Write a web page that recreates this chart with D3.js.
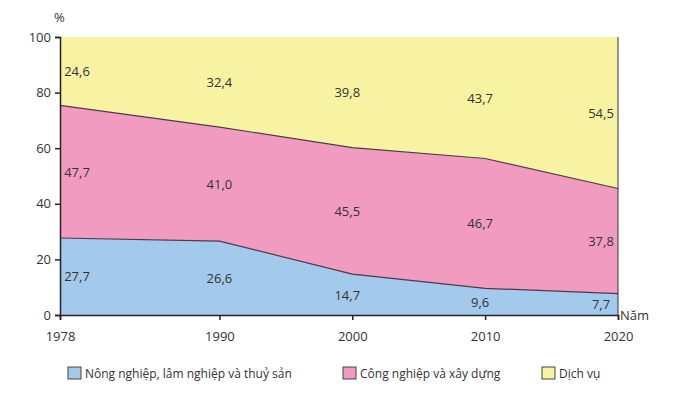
<!DOCTYPE html><html><head><meta charset="utf-8"><script src="https://cdn.jsdelivr.net/npm/d3@7"></script>
<style>body{margin:0;background:#fff}text{font-family:"Open Sans",Arial,sans-serif;fill:#333}</style></head><body><svg id="c" width="678" height="400"></svg>
<script>
const years=[1978,1990,2000,2010,2020];
const agri=[27.7,26.6,14.7,9.6,7.7];
const industry=[47.7,41.0,45.5,46.7,37.8];
const services=[24.6,32.4,39.8,43.7,54.5];
const yTicks=[0,20,40,60,80,100];
const seriesNames=["Nông nghiệp, lâm nghiệp và thuỷ sản","Công nghiệp và xây dựng","Dịch vụ"];
const colors=["#a3c9ec","#f29bc1","#f8f3a2"];
const svg=d3.select("#c");
const x=d3.scaleLinear().domain([1978,2020]).range([60,618]);
const y=d3.scaleLinear().domain([0,100]).range([315,37]);
const rows=years.map((yr,i)=>({yr,a:agri[i],b:industry[i],c:services[i]}));
const stack=d3.stack().keys(["a","b","c"])(rows);
const area=d3.area().x(d=>x(d.data.yr)).y0(d=>y(d[0])).y1(d=>y(d[1]));
stack.forEach((s,k)=>svg.append("path").attr("d",area(s)).attr("fill",colors[k]));
const line=d3.line().x(d=>x(d.data.yr)).y(d=>y(d[1]));
[0,1].forEach(k=>svg.append("path").attr("d",line(stack[k])).attr("fill","none").attr("stroke","#4a3a4a").attr("stroke-width",1.2));
svg.append("line").attr("x1",x(2020)).attr("x2",x(2020)).attr("y1",y(0)).attr("y2",y(100)).attr("stroke","#333").attr("stroke-width",1);
const ya=svg.append("g").attr("transform","translate(60,0)").call(d3.axisLeft(y).tickValues(yTicks).tickSize(5).tickPadding(4));
ya.selectAll("text").attr("font-size",13);
const xa=svg.append("g").attr("transform","translate(0,315)").call(d3.axisBottom(x).tickValues(years).tickFormat(d3.format("d")).tickSize(5).tickPadding(12));
xa.selectAll("text").attr("font-size",13);
svg.selectAll(".domain,.tick line").attr("stroke","#222").attr("stroke-width",1.5);
svg.append("text").attr("x",54).attr("y",22).attr("font-size",13).text("%");
svg.append("text").attr("x",620).attr("y",320).attr("font-size",13).text("Năm");
const dx=[17,0,-5,-5,-17];
stack.forEach(s=>s.forEach((d,i)=>svg.append("text").attr("x",x(d.data.yr)+dx[i]).attr("y",y((d[0]+d[1])/2)+5).attr("text-anchor","middle").attr("font-size",13).text(d3.format(".1f")(d[1]-d[0]).replace(".",","))));
const lx=[68,343,542];
seriesNames.forEach((n,k)=>{svg.append("rect").attr("x",lx[k]).attr("y",367).attr("width",13).attr("height",12).attr("fill",colors[k]).attr("stroke","#444");
svg.append("text").attr("x",lx[k]+17).attr("y",378).attr("font-size",12).text(n);});
</script></body></html>
